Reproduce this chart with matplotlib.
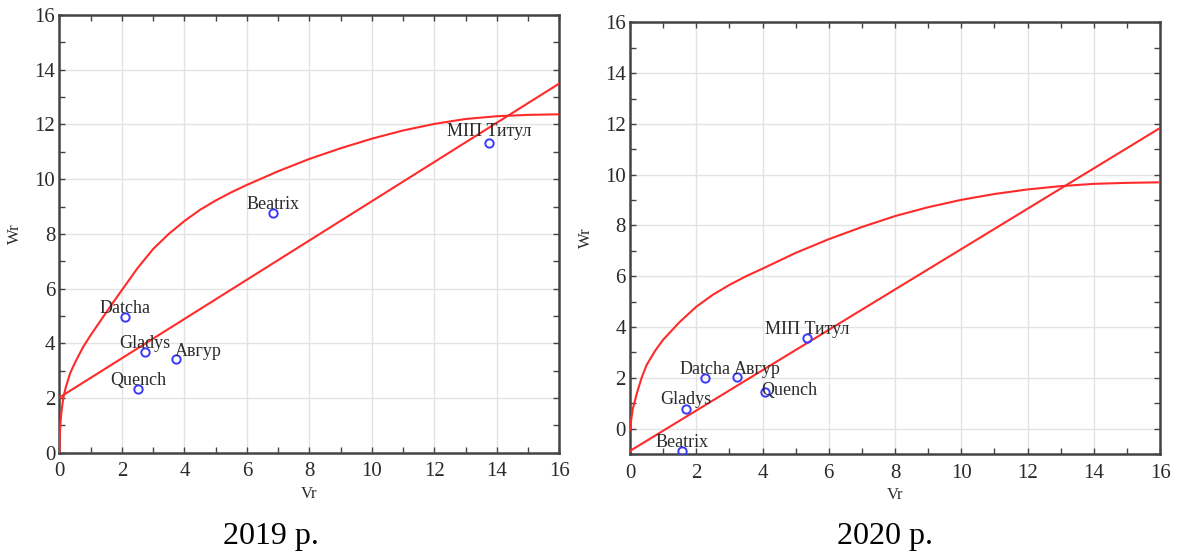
import numpy as np
import matplotlib
matplotlib.use('Agg')
import matplotlib.pyplot as plt
from matplotlib.ticker import MultipleLocator

plt.rcParams['font.family'] = ['Liberation Serif', 'DejaVu Serif']

# ---- data ----
names = ['Datcha', 'Gladys', 'Авгур', 'Quench', 'Beatrix', 'МІП Титул']

vr_2019 = [2.10, 2.74, 3.73, 2.51, 6.82, 13.75]
wr_2019 = [4.95, 3.67, 3.42, 2.32, 8.77, 11.31]

vr_2020 = [2.27, 1.68, 3.23, 4.06, 1.57, 5.34]
wr_2020 = [1.99, 0.79, 2.03, 1.45, -0.88, 3.55]

# limiting parabola
curve_x_2019 = [0, 0.01, 0.03, 0.06, 0.12, 0.2, 0.34, 0.5, 0.75, 1, 1.3, 1.6, 2, 2.5, 3,
                3.5, 4, 4.5, 5, 5.5, 6, 7, 8, 9, 10, 11, 12, 13, 14, 15, 16]
curve_y_2019 = [0, 0.6, 1.05, 1.45, 2.0, 2.38, 2.9, 3.3, 3.85, 4.3, 4.8, 5.3, 5.95, 6.75, 7.45,
                8.0, 8.47, 8.88, 9.22, 9.52, 9.79, 10.29, 10.74, 11.13, 11.48, 11.78, 12.02,
                12.2, 12.3, 12.35, 12.37]

curve_x_2020 = [0, 0.03, 0.08, 0.2, 0.35, 0.5, 0.75, 1, 1.5, 2, 2.5, 3, 3.5, 4, 5, 6, 7, 8,
                9, 10, 11, 12, 13, 14, 15, 16]
curve_y_2020 = [-0.05, 0.3, 0.75, 1.36, 2.0, 2.5, 3.05, 3.5, 4.2, 4.8, 5.27, 5.66, 6.0, 6.3,
                6.92, 7.46, 7.94, 8.37, 8.72, 9.01, 9.24, 9.42, 9.55, 9.64, 9.68, 9.7]

# regression lines (ends)
line_x = [0, 16]
line_y_2019 = [2.02, 13.5]
line_y_2020 = [-0.88, 11.84]

# label placement: offset in points, horizontal alignment
offs_2019 = {'Datcha': (0, 3, 'center'), 'Gladys': (0, 3, 'center'), 'Авгур': (-1, 2, 'left'),
             'Quench': (0, 3, 'center'), 'Beatrix': (0, 3, 'center'), 'МІП Титул': (0, 5, 'center')}
offs_2020 = {'Datcha': (0, 3, 'center'), 'Gladys': (0, 3, 'center'), 'Авгур': (-2, 2, 'left'),
             'Quench': (-2, -2, 'left'), 'Beatrix': (0, 3, 'center'), 'МІП Титул': (0, 3, 'center')}

RED = '#ff2a2a'
BLUE = '#3a3aff'
TXT = '#2a2a2a'

fig = plt.figure(figsize=(11.8, 5.58), dpi=100)
ax1 = fig.add_axes([0.0504, 0.1887, 0.4237, 0.7844])
ax2 = fig.add_axes([0.5339, 0.1864, 0.4492, 0.7735])


def draw(ax, cx, cy, ly, vr, wr, offs, ylim):
    ax.plot(cx, cy, color=RED, lw=1.5, zorder=3, solid_joinstyle='round')
    ax.plot(line_x, ly, color=RED, lw=1.5, zorder=3)
    ax.plot(vr, wr, 'o', mfc='none', mec=BLUE, mew=1.4, ms=6, zorder=4)
    for n, x, y in zip(names, vr, wr):
        dx, dy, ha = offs[n]
        ax.annotate(n, (x, y), xytext=(dx, dy), textcoords='offset points',
                    ha=ha, va='baseline', fontsize=13, color=TXT, zorder=5)
    ax.set_xlim(0, 16)
    ax.set_ylim(*ylim)
    ax.xaxis.set_major_locator(MultipleLocator(2))
    ax.yaxis.set_major_locator(MultipleLocator(2))
    ax.xaxis.set_minor_locator(MultipleLocator(1))
    ax.yaxis.set_minor_locator(MultipleLocator(1))
    ax.grid(True, which='major', color='#e3e3e3', lw=1.0, zorder=0)
    ax.tick_params(which='both', direction='in', top=True, right=True, color='#444444',
                   labelsize=15, labelcolor=TXT)
    ax.tick_params(which='both', length=4, width=1)
    ax.tick_params(axis='x', pad=7)
    ax.tick_params(axis='y', pad=3)
    for s in ax.spines.values():
        s.set_color('#444444')
        s.set_linewidth(1.8)
    ax.set_xlabel('Vr', fontsize=12, labelpad=3, color=TXT)
    ax.set_ylabel('Wr', fontsize=12, labelpad=8, color=TXT)


draw(ax1, curve_x_2019, curve_y_2019, line_y_2019, vr_2019, wr_2019, offs_2019, (0, 16))
draw(ax2, curve_x_2020, curve_y_2020, line_y_2020, vr_2020, wr_2020, offs_2020, (-1, 16))
ax2.set_yticks(np.arange(0, 17, 2))

fig.text(0.23, 0.038, '2019 р.', fontsize=23, ha='center', va='center')
fig.text(0.75, 0.038, '2020 р.', fontsize=23, ha='center', va='center')

fig.savefig('out.png', dpi=100)
